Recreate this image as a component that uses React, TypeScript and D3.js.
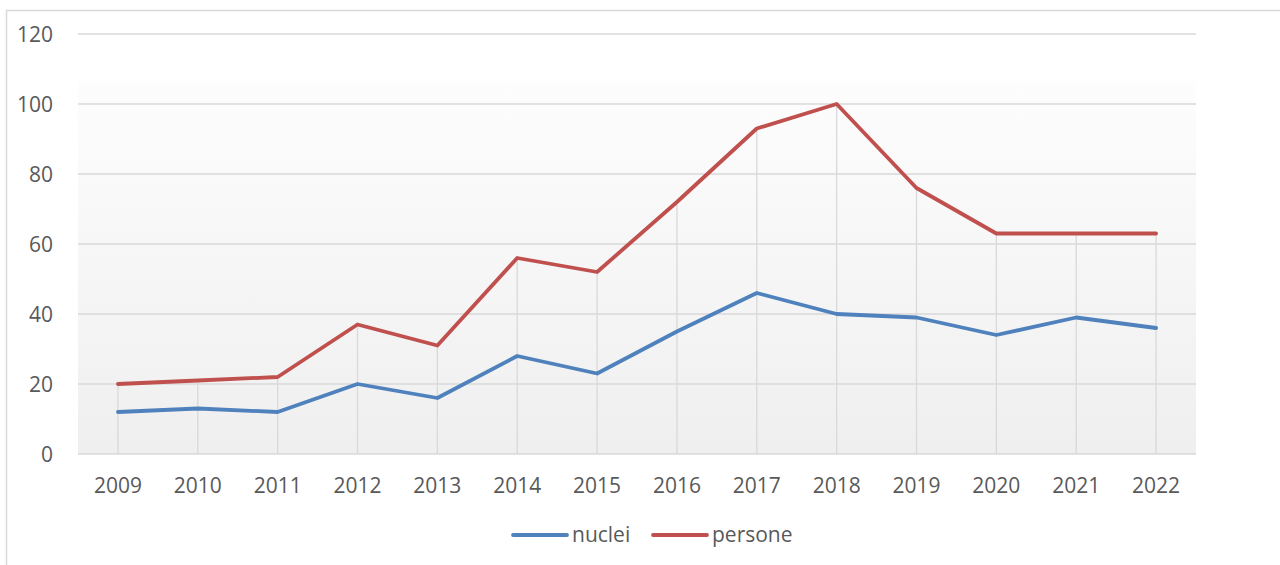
import React, { useEffect, useRef } from "react";
import * as d3 from "d3";

const years = ["2009", "2010", "2011", "2012", "2013", "2014", "2015", "2016", "2017", "2018", "2019", "2020", "2021", "2022"];
const nuclei = [12, 13, 12, 20, 16, 28, 23, 35, 46, 40, 39, 34, 39, 36];
const persone = [20, 21, 22, 37, 31, 56, 52, 72, 93, 100, 76, 63, 63, 63];
const yTicks = [0, 20, 40, 60, 80, 100, 120];

const series = [
  { name: "nuclei", values: nuclei, color: "#4f81bd" },
  { name: "persone", values: persone, color: "#c0504d" },
];

const W = 1280;
const H = 565;
const FONT = "'Open Sans', sans-serif";

const App = () => {
  const ref = useRef<SVGSVGElement>(null);

  useEffect(() => {
    const svg = d3.select(ref.current);
    svg.selectAll("*").remove();

    const left = 78;
    const right = 1196;
    const top = 34;
    const bottom = 454;

    const x = d3.scaleBand().domain(years).range([left, right]);
    const y = d3.scaleLinear().domain([0, 120]).range([bottom, top]);
    const cx = (d: string) => (x(d) as number) + x.bandwidth() / 2;

    // outer chart border
    svg
      .append("rect")
      .attr("x", 6.5)
      .attr("y", 10.5)
      .attr("width", W)
      .attr("height", H)
      .attr("fill", "white")
      .attr("stroke", "#d9d9d9")
      .attr("stroke-width", 1.5);

    // plot area gradient
    const grad = svg
      .append("defs")
      .append("linearGradient")
      .attr("id", "bg")
      .attr("x1", 0)
      .attr("y1", 0)
      .attr("x2", 0)
      .attr("y2", 1);
    grad.append("stop").attr("offset", "0").attr("stop-color", "#ffffff");
    grad.append("stop").attr("offset", "0.11").attr("stop-color", "#ffffff");
    grad.append("stop").attr("offset", "0.12").attr("stop-color", "#fdfdfd");
    grad.append("stop").attr("offset", "1").attr("stop-color", "#efefef");

    svg
      .append("rect")
      .attr("x", left)
      .attr("y", top)
      .attr("width", right - left)
      .attr("height", bottom - top)
      .attr("fill", "url(#bg)");

    // horizontal gridlines
    svg
      .append("g")
      .selectAll("line")
      .data(yTicks)
      .enter()
      .append("line")
      .attr("x1", left)
      .attr("x2", right)
      .attr("y1", (d) => y(d))
      .attr("y2", (d) => y(d))
      .attr("stroke", "#d9d9d9")
      .attr("stroke-width", 1.5);

    // drop lines from the highest series to the axis
    svg
      .append("g")
      .selectAll("line")
      .data(years)
      .enter()
      .append("line")
      .attr("x1", (d) => cx(d))
      .attr("x2", (d) => cx(d))
      .attr("y1", (d, i) => y(Math.max(nuclei[i], persone[i])))
      .attr("y2", bottom)
      .attr("stroke", "#d9d9d9")
      .attr("stroke-width", 1.3);

    // y labels
    svg
      .append("g")
      .selectAll("text")
      .data(yTicks)
      .enter()
      .append("text")
      .attr("x", 53)
      .attr("y", (d) => y(d))
      .attr("dy", "0.36em")
      .attr("text-anchor", "end")
      .attr("font-family", FONT)
      .attr("font-size", 21)
      .attr("fill", "#595959")
      .text((d) => d);

    // x labels
    svg
      .append("g")
      .selectAll("text")
      .data(years)
      .enter()
      .append("text")
      .attr("x", (d) => cx(d))
      .attr("y", 493)
      .attr("text-anchor", "middle")
      .attr("font-family", FONT)
      .attr("font-size", 21)
      .attr("fill", "#595959")
      .text((d) => d);

    // lines
    const line = d3
      .line<number>()
      .x((d, i) => cx(years[i]))
      .y((d) => y(d));

    series.forEach((s) => {
      svg
        .append("path")
        .datum(s.values)
        .attr("d", line)
        .attr("fill", "none")
        .attr("stroke", s.color)
        .attr("stroke-width", 3.8)
        .attr("stroke-linejoin", "round")
        .attr("stroke-linecap", "round");
    });

    // legend
    const legendX = [513, 653];
    series.forEach((s, i) => {
      const g = svg.append("g").attr("transform", `translate(${legendX[i]},535)`);
      g.append("line")
        .attr("x1", 0)
        .attr("x2", 54)
        .attr("y1", 0)
        .attr("y2", 0)
        .attr("stroke", s.color)
        .attr("stroke-width", 3.8)
        .attr("stroke-linecap", "round");
      g.append("text")
        .attr("x", 59)
        .attr("y", 7)
        .attr("font-family", FONT)
        .attr("font-size", 21)
        .attr("fill", "#595959")
        .text(s.name);
    });
  }, []);

  return (
    <svg
      ref={ref}
      width={W}
      height={H}
      style={{ position: "absolute", left: 0, top: 0, background: "white" }}
    />
  );
};

export default App;
